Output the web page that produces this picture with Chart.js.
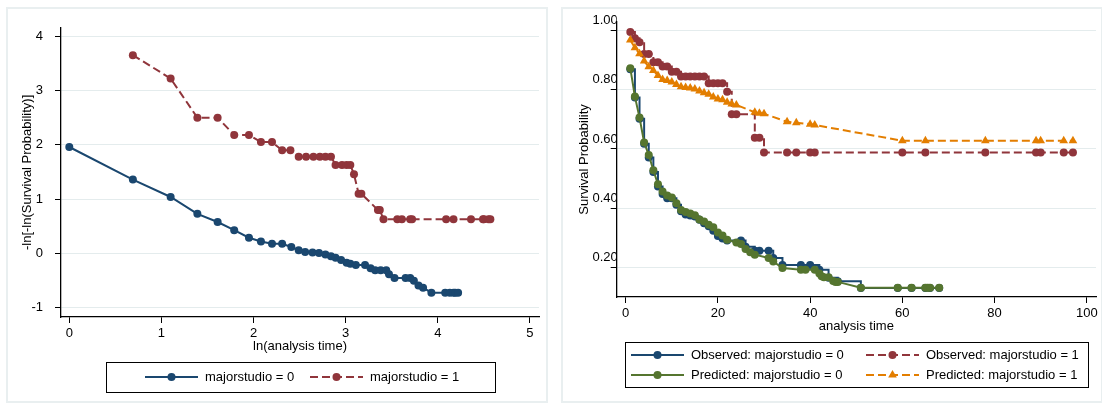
<!DOCTYPE html>
<html>
<head>
<meta charset="utf-8">
<script src="https://cdn.jsdelivr.net/npm/chart.js@4/dist/chart.umd.min.js"></script>
<style>
  body { margin: 0; background: #fff; width: 1102px; height: 403px; position: relative; overflow: hidden; }
  .panel { position: absolute; box-sizing: border-box; border: 2px solid #e9eff0; background: #fff; }
  canvas { position: absolute; }
</style>
</head>
<body>
<div class="panel" style="left:6px;top:7px;width:542px;height:396px"></div>
<div class="panel" style="left:561px;top:7px;width:542px;height:396px"></div>
<canvas id="left" width="540" height="392" style="left:7px;top:8px"></canvas>
<canvas id="right" width="539" height="392" style="left:562px;top:8px"></canvas>
<script>
// ---- left panel: -ln[-ln(S)] against ln(time)
var lnTime0 = [0, 0.69, 1.10, 1.39, 1.61, 1.79, 1.95, 2.08, 2.20, 2.31, 2.41, 2.49, 2.56, 2.64, 2.71, 2.78, 2.84, 2.89, 2.95, 3.01, 3.05, 3.11, 3.21, 3.27, 3.32, 3.38, 3.44, 3.47, 3.53, 3.65, 3.70, 3.74, 3.79, 3.84, 3.93, 4.08, 4.13, 4.17, 4.19, 4.22]
var lnlnS0  = [1.96, 1.36, 1.04, 0.73, 0.58, 0.43, 0.29, 0.22, 0.18, 0.18, 0.12, 0.06, 0.03, 0.02, 0.01, -0.02, -0.05, -0.08, -0.12, -0.17, -0.19, -0.21, -0.21, -0.27, -0.31, -0.31, -0.31, -0.38, -0.45, -0.45, -0.45, -0.50, -0.59, -0.63, -0.72, -0.72, -0.72, -0.72, -0.72, -0.72]
var lnTime1 = [0.69, 1.10, 1.39, 1.61, 1.79, 1.95, 2.08, 2.20, 2.31, 2.40, 2.49, 2.57, 2.65, 2.72, 2.78, 2.84, 2.89, 2.96, 3.01, 3.05, 3.09, 3.14, 3.17, 3.35, 3.37, 3.41, 3.56, 3.61, 3.70, 3.72, 4.09, 4.17, 4.36, 4.49, 4.50, 4.55, 4.57]
var lnlnS1  = [3.65, 3.22, 2.50, 2.50, 2.18, 2.18, 2.05, 2.05, 1.90, 1.90, 1.78, 1.78, 1.78, 1.78, 1.78, 1.78, 1.63, 1.63, 1.63, 1.63, 1.46, 1.10, 1.10, 0.80, 0.80, 0.63, 0.63, 0.63, 0.63, 0.63, 0.63, 0.63, 0.63, 0.63, 0.63, 0.63, 0.63]
var leftXTicks = [0, 1, 2, 3, 4, 5]
var leftYTicks = [-1, 0, 1, 2, 3, 4]

// ---- right panel: observed (KM) vs predicted survival
var obsTime0 = [1, 2, 3, 4, 5, 6, 7, 8, 9, 10, 11, 12, 13, 14, 15, 16, 17, 18, 19, 20, 21, 22, 25, 26, 28, 29, 31, 32, 34, 38, 40, 42, 44, 46, 51, 59, 62, 65, 66, 68]
var obsSurv0 = [0.869, 0.774, 0.702, 0.618, 0.571, 0.522, 0.473, 0.448, 0.434, 0.434, 0.412, 0.390, 0.379, 0.375, 0.372, 0.361, 0.349, 0.339, 0.324, 0.306, 0.298, 0.291, 0.291, 0.270, 0.256, 0.256, 0.256, 0.232, 0.208, 0.208, 0.208, 0.192, 0.165, 0.153, 0.130, 0.130, 0.130, 0.130, 0.130, 0.130]
var obsTime1 = [1, 2, 3, 4, 5, 6, 7, 8, 9, 10, 11, 12, 13, 14, 15, 16, 17, 18, 19, 20, 21, 22, 23, 24, 28, 29, 30, 35, 37, 40, 41, 60, 65, 78, 89, 90, 95, 97]
var obsSurv1 = [0.995, 0.974, 0.961, 0.921, 0.921, 0.893, 0.893, 0.879, 0.879, 0.861, 0.861, 0.845, 0.845, 0.845, 0.845, 0.845, 0.845, 0.822, 0.822, 0.822, 0.822, 0.793, 0.717, 0.717, 0.638, 0.638, 0.588, 0.588, 0.588, 0.588, 0.588, 0.588, 0.588, 0.588, 0.588, 0.588, 0.588, 0.588]
var predTime0 = [1, 2, 3, 4, 5, 6, 7, 8, 9, 10, 11, 12, 13, 14, 15, 16, 17, 18, 19, 20, 21, 22, 24, 25, 26, 27, 28, 31, 32, 34, 38, 39, 41, 42, 42.5, 43, 44, 45, 45.5, 46, 51, 59, 62, 65, 65.5, 66, 68]
var predSurv0 = [0.873, 0.777, 0.706, 0.622, 0.580, 0.528, 0.481, 0.456, 0.443, 0.436, 0.417, 0.394, 0.387, 0.382, 0.376, 0.362, 0.355, 0.344, 0.336, 0.318, 0.308, 0.293, 0.284, 0.279, 0.262, 0.251, 0.243, 0.232, 0.220, 0.198, 0.192, 0.192, 0.192, 0.179, 0.170, 0.167, 0.167, 0.154, 0.151, 0.151, 0.131, 0.131, 0.131, 0.131, 0.131, 0.131, 0.131]
var predTime1 = [1, 2, 3, 4, 5, 6, 7, 8, 9, 10, 11, 12, 13, 14, 15, 16, 17, 18, 19, 20, 21, 22, 23, 24, 28, 29, 30, 35, 37, 40, 41, 60, 65, 78, 89, 90, 95, 97]
var predSurv1 = [0.968, 0.942, 0.922, 0.897, 0.878, 0.865, 0.848, 0.835, 0.831, 0.826, 0.818, 0.810, 0.808, 0.806, 0.803, 0.796, 0.790, 0.785, 0.776, 0.769, 0.766, 0.758, 0.752, 0.749, 0.724, 0.721, 0.719, 0.692, 0.689, 0.684, 0.681, 0.628, 0.628, 0.628, 0.628, 0.628, 0.628, 0.628]
var rightXTicks = [0, 20, 40, 60, 80, 100]
var rightYTicks = [0.2, 0.4, 0.6, 0.8, 1.0]

var navy = '#1a476f', maroon = '#90353b', green = '#55752f', orange = '#e37e00'
var FONT = '"Liberation Sans", Arial, sans-serif'
Chart.defaults.font.family = FONT
Chart.defaults.font.size = 13
Chart.defaults.color = '#000'

function pairs(xs, ys) {
    return xs.map(function (x, i) { return { x: x, y: ys[i] } })
}

function series(label, xs, ys, color, opts) {
    return Object.assign({
        label: label,
        data: pairs(xs, ys),
        showLine: true,
        borderColor: color,
        backgroundColor: color,
        pointBackgroundColor: color,
        borderWidth: 2,
        pointRadius: 4,
        pointBorderWidth: 0,
        pointStyle: 'circle'
    }, opts || {})
}

function drawMarker(ctx, style, x, y, r) {
    ctx.beginPath()
    if (style === 'triangle') {
        ctx.moveTo(x, y - r)
        ctx.lineTo(x + r * 0.866, y + r * 0.5)
        ctx.lineTo(x - r * 0.866, y + r * 0.5)
        ctx.closePath()
    } else {
        ctx.arc(x, y, r, 0, Math.PI * 2)
    }
    ctx.fill()
}

// legend with a frame, as Stata draws it
var boxLegend = {
    id: 'boxLegend',
    afterDraw: function (chart, args, opts) {
        var ctx = chart.ctx, a = chart.chartArea
        var left = Math.round((a.left + a.right) / 2 - opts.width / 2)
        var top = Math.round(a.bottom + opts.gap)
        ctx.save()
        ctx.strokeStyle = '#000'
        ctx.lineWidth = 1
        ctx.strokeRect(left + 0.5, top + 0.5, opts.width, opts.height)
        ctx.font = '13px ' + FONT
        ctx.textBaseline = 'middle'
        opts.items.forEach(function (it) {
            var ds = chart.data.datasets[it.dataset]
            var x0 = left + it.x, y = top + it.y
            ctx.strokeStyle = ds.borderColor
            ctx.lineWidth = ds.borderWidth
            ctx.setLineDash(ds.borderDash || [])
            ctx.beginPath()
            ctx.moveTo(x0, y)
            ctx.lineTo(x0 + 53, y)
            ctx.stroke()
            ctx.setLineDash([])
            ctx.fillStyle = ds.pointBackgroundColor
            drawMarker(ctx, ds.pointStyle, x0 + 26.5, y, ds.pointStyle === 'triangle' ? 5 : 4)
            ctx.fillStyle = '#000'
            ctx.fillText(ds.label, x0 + 60, y)
        })
        ctx.restore()
    }
}

function axis(o) {
    var horiz = o.horizontal
    return {
        type: 'linear',
        position: horiz ? 'bottom' : 'left',
        min: o.min,
        max: o.max,
        afterBuildTicks: function (s) { s.ticks = o.ticks.map(function (v) { return { value: v } }) },
        afterFit: function (s) { if (horiz) s.height = o.size; else s.width = o.size },
        grid: {
            display: true,
            drawOnChartArea: !horiz,
            color: '#e4eced',
            lineWidth: 1,
            tickColor: '#000',
            tickLength: 6
        },
        border: { display: true, color: '#000', width: 1.3 },
        ticks: {
            color: '#000',
            font: { size: 13 },
            padding: o.padding,
            labelOffset: o.labelOffset || 0,
            maxRotation: 0,
            autoSkip: false,
            callback: o.format || function (v) { return v }
        },
        title: {
            display: true,
            text: o.title,
            color: '#000',
            font: { size: 13 },
            padding: o.titlePad
        }
    }
}

new Chart(document.getElementById('left'), {
    type: 'scatter',
    data: {
        datasets: [
            series('majorstudio = 0', lnTime0, lnlnS0, navy),
            series('majorstudio = 1', lnTime1, lnlnS1, maroon, { borderDash: [8, 4] })
        ]
    },
    options: {
        responsive: false,
        animation: false,
        devicePixelRatio: 1,
        layout: { padding: { left: 0, right: 8, top: 14, bottom: 46 } },
        plugins: {
            legend: { display: false },
            tooltip: { enabled: false },
            boxLegend: {
                width: 389, height: 30, gap: 45,
                items: [{ dataset: 0, x: 39, y: 15 }, { dataset: 1, x: 204, y: 15 }]
            }
        },
        scales: {
            x: axis({ horizontal: true, min: -0.09, max: 5.098, ticks: leftXTicks, size: 37, padding: 3,
                title: 'ln(analysis time)', titlePad: { top: 0, bottom: 0 } }),
            y: axis({ min: -1.168, max: 4.153, ticks: leftYTicks, size: 54, padding: 12,
                title: '-ln[-ln(Survival Probability)]', titlePad: { top: 13, bottom: 0 } })
        }
    },
    plugins: [boxLegend]
})

new Chart(document.getElementById('right'), {
    type: 'scatter',
    data: {
        datasets: [
            series('Observed: majorstudio = 0', obsTime0, obsSurv0, navy, { stepped: 'before', order: 4 }),
            series('Observed: majorstudio = 1', obsTime1, obsSurv1, maroon, { stepped: 'before', borderDash: [8, 4], order: 3 }),
            series('Predicted: majorstudio = 0', predTime0, predSurv0, green, { order: 2 }),
            series('Predicted: majorstudio = 1', predTime1, predSurv1, orange, { borderDash: [8, 4], pointStyle: 'triangle', pointRadius: 5, order: 1 })
        ]
    },
    options: {
        responsive: false,
        animation: false,
        devicePixelRatio: 1,
        layout: { padding: { left: 0, right: 5, top: 14, bottom: 66 } },
        plugins: {
            legend: { display: false },
            tooltip: { enabled: false },
            boxLegend: {
                width: 463, height: 45, gap: 45,
                items: [
                    { dataset: 0, x: 6, y: 13 }, { dataset: 1, x: 241, y: 13 },
                    { dataset: 2, x: 6, y: 33 }, { dataset: 3, x: 241, y: 33 }
                ]
            }
        },
        scales: {
            x: axis({ horizontal: true, min: -1.95, max: 102, ticks: rightXTicks, size: 37, padding: 3,
                title: 'analysis time', titlePad: { top: 0, bottom: 0 } }),
            y: axis({ min: 0.1, max: 1.029, ticks: rightYTicks, size: 54.7, padding: -7, labelOffset: -10,
                format: function (v) { return v.toFixed(2) },
                title: 'Survival Probability', titlePad: { top: 15, bottom: 0 } })
        }
    },
    plugins: [boxLegend]
})
</script>
</body>
</html>
